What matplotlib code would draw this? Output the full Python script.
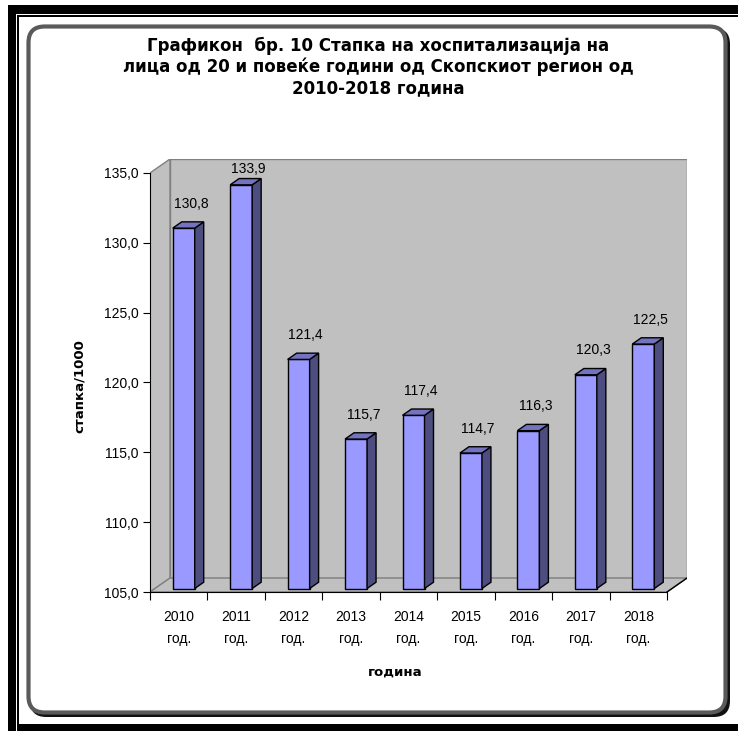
"""Hospitalisation rate chart, Skopje region 2010-2018 (pseudo-3D column chart)."""
import matplotlib
matplotlib.use("Agg")
import matplotlib.pyplot as plt
from matplotlib.patches import Polygon, Rectangle, FancyBboxPatch

years = ["2010", "2011", "2012", "2013", "2014", "2015", "2016", "2017", "2018"]
rates = [130.8, 133.9, 121.4, 115.7, 117.4, 114.7, 116.3, 120.3, 122.5]
y_ticks = [105, 110, 115, 120, 125, 130, 135]

title = ("Графикон  бр. 10 Стапка на хоспитализација на\n"
         "лица од 20 и повеќе години од Скопскиот регион од\n"
         "2010-2018 година")

# palette
WALL = "#C0C0C0"
WALL_EDGE = "#808080"
FRONT = "#9999FF"
SIDE = "#4D4D80"
TOP = "#7373BF"

W, H = 738, 731
fig = plt.figure(figsize=(W / 100, H / 100), dpi=100, facecolor="white")


def px(x0, y0, x1, y1):
    # pixel box (top-left origin) -> figure fraction rect
    return [x0 / W, 1 - y1 / H, (x1 - x0) / W, (y1 - y0) / H]


def prect(x0, y0, x1, y1, **kw):
    return Rectangle((x0 / W, 1 - y1 / H), (x1 - x0) / W, (y1 - y0) / H, **kw)


# page frame: thick + thin black lines on the left/top, thick band at the bottom
frame = [
    prect(8, 5, 16, H, facecolor="black", edgecolor="none"),
    prect(8, 5, W, 14, facecolor="black", edgecolor="none"),
    prect(17, 15, 19, H, facecolor="black", edgecolor="none"),
    prect(17, 15, W, 17, facecolor="black", edgecolor="none"),
    prect(17, 724, W, H, facecolor="black", edgecolor="none"),
    # rounded chart box with dark shadow
    FancyBboxPatch((30 / W, 1 - 717 / H), 700 / W, 689 / H,
                   boxstyle="round,pad=0,rounding_size=0.022", facecolor="#111111",
                   edgecolor="none"),
    FancyBboxPatch((28.5 / W, 1 - 712.5 / H), 697 / W, 686 / H,
                   boxstyle="round,pad=0,rounding_size=0.022", facecolor="white",
                   edgecolor="#5a5a5a", lw=3),
]
for p in frame:
    p.set_transform(fig.transFigure)
    p.set_zorder(-5)
    fig.patches.append(p)

fig.text(378 / W, 1 - 67 / H, title, ha="center", va="center", fontsize=12,
         fontweight="bold", linespacing=1.22, family="DejaVu Sans")

ax = fig.add_axes(px(150, 159, 687, 592))
ax.set_facecolor("none")

n = len(years)
D_X, D_Y = 0.348, 1.0      # depth of the floor in data units
BW = 0.383                 # bar width
F, B = 0.25, 0.45          # bar front offset / bar thickness (fractions of depth)
base = y_ticks[0]
top = y_ticks[-1]

ax.set_xlim(0, n + D_X)
ax.set_ylim(base, top + D_Y)

# walls and floor
ax.add_patch(Polygon([(D_X, base + D_Y), (n + D_X, base + D_Y), (n + D_X, top + D_Y), (D_X, top + D_Y)],
                     facecolor=WALL, edgecolor=WALL_EDGE, lw=1, zorder=0))
ax.add_patch(Polygon([(0, base), (D_X, base + D_Y), (D_X, top + D_Y), (0, top)],
                     facecolor=WALL, edgecolor=WALL_EDGE, lw=1, zorder=0))
ax.add_patch(Polygon([(0, base), (n, base), (n + D_X, base + D_Y), (D_X, base + D_Y)],
                     facecolor=WALL, edgecolor=WALL_EDGE, lw=1, zorder=0))
ax.plot([n, n + D_X], [base, base + D_Y], color="black", lw=1, zorder=1)

# bars
xs = [i + 0.5 + F * D_X for i in range(n)]
y0 = base + F * D_Y
ax.bar(xs, [v - base for v in rates], bottom=y0, width=BW, color=FRONT,
       edgecolor="black", lw=1, zorder=3)
for x, v in zip(xs, rates):
    xl, xr = x - BW / 2, x + BW / 2
    yt = v + F * D_Y
    dx, dy = B * D_X, B * D_Y
    ax.add_patch(Polygon([(xr, y0), (xr + dx, y0 + dy), (xr + dx, yt + dy), (xr, yt)],
                         facecolor=SIDE, edgecolor="black", lw=1, zorder=3))
    ax.add_patch(Polygon([(xl, yt), (xr, yt), (xr + dx, yt + dy), (xl + dx, yt + dy)],
                         facecolor=TOP, edgecolor="black", lw=1, zorder=3))
    # labels are kept inside the plot area, as the spreadsheet does
    ax.annotate(f"{v:.1f}".replace(".", ","), (x + 0.8 * dx, min(yt + dy, top - D_Y)),
                xytext=(0, 8), textcoords="offset points", ha="center", va="bottom",
                fontsize=10, family="Liberation Sans", zorder=4)

# axes
for s in ("top", "right"):
    ax.spines[s].set_visible(False)
ax.spines["left"].set_bounds(base, top)
ax.spines["bottom"].set_bounds(0, n)
ax.spines["left"].set_zorder(2)
ax.spines["bottom"].set_zorder(2)

ax.set_yticks(y_ticks)
ax.set_yticklabels([f"{t:.1f}".replace(".", ",") for t in y_ticks],
                   fontsize=10, family="Liberation Sans")
ax.set_xticks(range(n + 1))
ax.set_xticklabels([])
ax.set_xticks([i + 0.5 for i in range(n)], minor=True)
ax.set_xticklabels([f"{y}\nгод." for y in years], minor=True, fontsize=10,
                   family="Liberation Sans", linespacing=1.75)
ax.tick_params(axis="x", which="major", length=6, direction="out")
ax.tick_params(axis="x", which="minor", length=0, pad=13)
ax.tick_params(axis="y", length=5, direction="out", pad=3)

ax.set_ylabel("стапка/1000", fontsize=9.5, fontweight="bold")
ax.yaxis.set_label_coords(-0.119, 0.476)
ax.set_xlabel("година", fontsize=9.5, fontweight="bold")
ax.xaxis.set_label_coords(0.456, -0.171)

fig.savefig("out.png", dpi=100, facecolor="white")
